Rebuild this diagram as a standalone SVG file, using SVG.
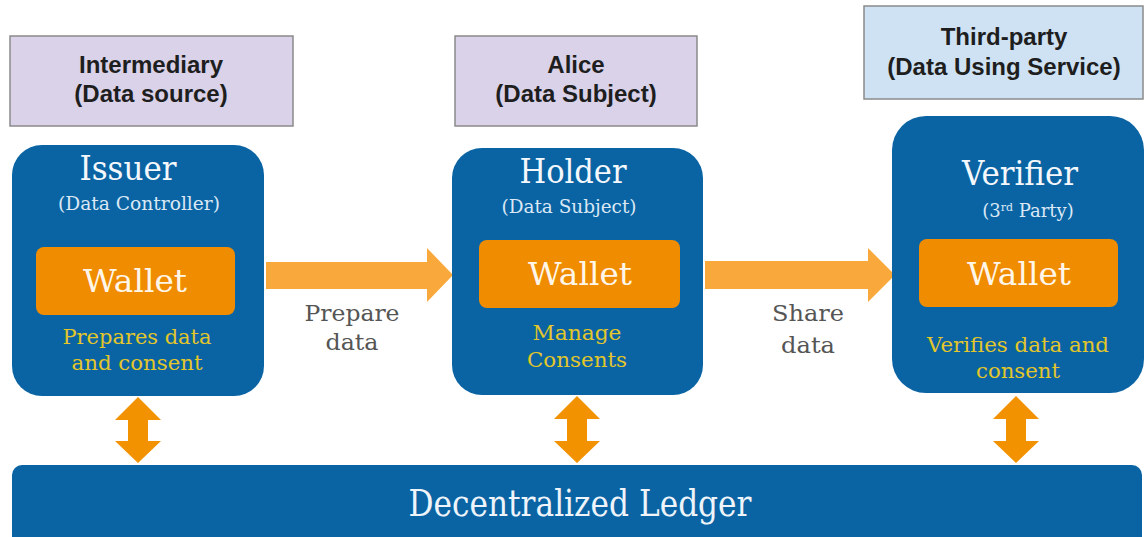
<svg xmlns="http://www.w3.org/2000/svg" width="1145" height="537" viewBox="0 0 1145 537">
<style>
.role{stroke:#8a8a8a;stroke-width:1.5}
.rt{font-family:"Liberation Sans",Arial,sans-serif;font-weight:bold;font-size:24px;fill:#1e1e1e;text-anchor:middle}
.blue{fill:#0a64a4}
.wal{fill:#f08c00}
.slab{font-family:"DejaVu Serif","Liberation Serif",serif;text-anchor:middle}
.title{font-size:34px;fill:#f4f8fc}
.sub{font-size:18px;fill:#dbe8f5}
.wt{font-size:32px;fill:#fff6ea}
.yl{font-size:21px;fill:#e2c62a}
.lbl{font-size:23px;fill:#555555}
.harrow{fill:#f9a93b}
.varrow{fill:#f39200}
</style>
<rect width="1145" height="537" fill="#ffffff"/>

<g id="role-intermediary">
<rect class="role" x="10" y="36" width="283" height="90" fill="#d9d2e9"/>
<text class="rt" x="151" y="73">Intermediary</text>
<text class="rt" x="151" y="102">(Data source)</text>
</g>
<g id="role-alice">
<rect class="role" x="455" y="36" width="242" height="90" fill="#d9d2e9"/>
<text class="rt" x="576" y="73">Alice</text>
<text class="rt" x="576" y="102">(Data Subject)</text>
</g>
<g id="role-thirdparty">
<rect class="role" x="864" y="6" width="279" height="93" fill="#cfe2f3"/>
<text class="rt" x="1004" y="45">Third-party</text>
<text class="rt" x="1004" y="75">(Data Using Service)</text>
</g>

<g id="connectors">
<polygon class="harrow" points="266,262 427,262 427,248 453,275 427,302 427,289 266,289"/>
<polygon class="harrow" points="705,261 868,261 868,248 895,275 868,302 868,289 705,289"/>
<polygon class="varrow" points="138,397 161,420 148,420 148,441 161,441 138,463 115,441 128,441 128,420 115,420"/>
<polygon class="varrow" points="577,396 600,419 587,419 587,441 600,441 577,463 554,441 567,441 567,419 554,419"/>
<polygon class="varrow" points="1016,396 1039,419 1026,419 1026,441 1039,441 1016,463 993,441 1006,441 1006,419 993,419"/>
<text class="slab lbl" x="352" y="321" textLength="95" lengthAdjust="spacingAndGlyphs">Prepare</text>
<text class="slab lbl" x="352" y="350" textLength="53" lengthAdjust="spacingAndGlyphs">data</text>
<text class="slab lbl" x="808" y="321" textLength="72" lengthAdjust="spacingAndGlyphs">Share</text>
<text class="slab lbl" x="808" y="353" textLength="54" lengthAdjust="spacingAndGlyphs">data</text>
</g>

<g id="issuer">
<rect class="blue" x="12" y="145" width="252" height="251" rx="30"/>
<text class="slab title" x="128" y="180" textLength="97" lengthAdjust="spacingAndGlyphs">Issuer</text>
<text class="slab sub" x="139" y="210" textLength="162" lengthAdjust="spacingAndGlyphs">(Data Controller)</text>
<rect class="wal" x="36" y="247" width="199" height="68" rx="8"/>
<text class="slab wt" x="135" y="292" textLength="104" lengthAdjust="spacingAndGlyphs">Wallet</text>
<text class="slab yl" x="137" y="344" textLength="149" lengthAdjust="spacingAndGlyphs">Prepares data</text>
<text class="slab yl" x="137" y="370" textLength="131" lengthAdjust="spacingAndGlyphs">and consent</text>
</g>

<g id="holder">
<rect class="blue" x="452" y="148" width="251" height="247" rx="30"/>
<text class="slab title" x="573" y="183" textLength="107" lengthAdjust="spacingAndGlyphs">Holder</text>
<text class="slab sub" x="569" y="213" textLength="135" lengthAdjust="spacingAndGlyphs">(Data Subject)</text>
<rect class="wal" x="479" y="240" width="201" height="68" rx="8"/>
<text class="slab wt" x="580" y="285" textLength="104" lengthAdjust="spacingAndGlyphs">Wallet</text>
<text class="slab yl" x="577" y="340" textLength="89" lengthAdjust="spacingAndGlyphs">Manage</text>
<text class="slab yl" x="577" y="367" textLength="100" lengthAdjust="spacingAndGlyphs">Consents</text>
</g>

<g id="verifier">
<rect class="blue" x="892" y="116" width="252" height="277" rx="34"/>
<text class="slab title" x="1020" y="185" textLength="116" lengthAdjust="spacingAndGlyphs">Verifier</text>
<text class="slab sub" x="1028" y="217">(3<tspan font-size="11" dy="-6">rd</tspan><tspan dy="6"> Party)</tspan></text>
<rect class="wal" x="919" y="239" width="199" height="68" rx="8"/>
<text class="slab wt" x="1019" y="285" textLength="104" lengthAdjust="spacingAndGlyphs">Wallet</text>
<text class="slab yl" x="1018" y="352" textLength="182" lengthAdjust="spacingAndGlyphs">Verifies data and</text>
<text class="slab yl" x="1018" y="378" textLength="84" lengthAdjust="spacingAndGlyphs">consent</text>
</g>

<g id="ledger">
<rect class="blue" x="12" y="465" width="1130" height="85" rx="10"/>
<text class="slab" x="580" y="516" font-size="38" fill="#eef4fa" textLength="343" lengthAdjust="spacingAndGlyphs">Decentralized Ledger</text>
</g>
</svg>
